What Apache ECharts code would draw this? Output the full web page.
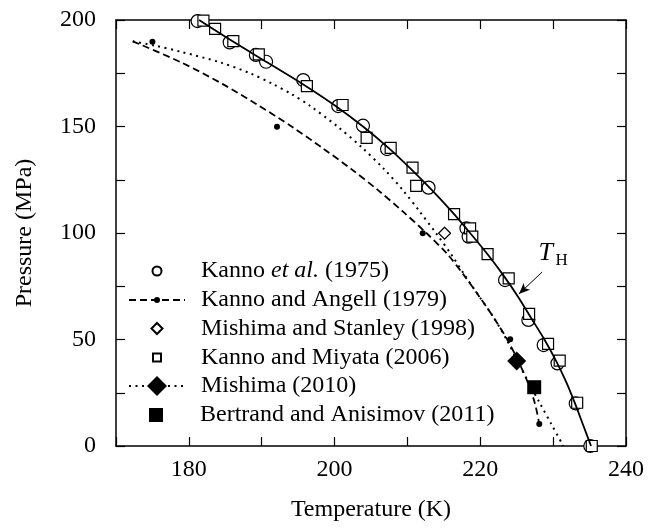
<!DOCTYPE html>
<html><head><meta charset="utf-8">
<script src="https://cdn.jsdelivr.net/npm/echarts@6/dist/echarts.min.js"></script>
<style>html,body{margin:0;padding:0;background:#fff}#c{width:648px;height:529px}</style>
</head><body><div id="c"></div><script>
const FONT = "'Liberation Serif','Times New Roman',serif";

// Axis ranges [min, max, tick interval]
const xTicks = [170, 240, 10];
const yTicks = [0, 200, 25];

// Kanno et al. (1975) — open circles
const kanno1975_T = [181.2,185.6,189.2,190.6,195.7,200.5,203.9,207.2,212.9,218.1,218.4,223.4,226.6,228.7,230.6,233.1,235.1];
const kanno1975_P = [199.5,189.5,183.6,180.4,171.8,159.6,150.4,139.4,121.3,102.2,98.3,77.9,59.2,47.4,38.8,20.0,0];

// Kanno and Miyata (2006) — open squares
const kannoMiyata_T = [182.0,183.6,186.1,189.6,196.2,201.1,204.4,207.7,210.7,211.2,216.4,218.6,218.9,221.0,223.9,226.7,229.3,230.9,233.3,235.3];
const kannoMiyata_P = [199.7,195.8,190.1,183.9,169.0,160.1,144.7,140.0,130.7,122.1,108.9,102.2,98.3,90.1,78.7,62.0,47.9,40.1,20.3,0];

// Kanno and Angell (1979) — dots and dashed curve
const kannoAngellPts_T = [175.0,192.1,212.1,224.1,228.1];
const kannoAngellPts_P = [189.8,149.9,99.9,50.1,10.3];
const kannoAngellCurve_T = [172.3,179.0,184.6,189.5,194.1,198.3,202.3,206.0,209.4,212.6,215.5,217.8,219.9,221.9,223.7,225.2,226.5,227.5,228.1];
const kannoAngellCurve_P = [190,180,170,160,150,140,130,120,110,100,90,80,70,60,50,40,30,20,10.3];

// Mishima (2010) — dotted curve and filled diamond
const mishimaCurve_T = [172.3,175.3,179.0,184.4,188.4,191.5,194.2,196.5,200.4,203.8,206.8,209.4,211.7,213.9,216.0,217.9,219.9,221.9,223.6,225.1,226.6,228.2,229.8,231.4];
const mishimaCurve_P = [190,188,185,180,175,170,165,160,150,140,130,120,110,100,90,80,70,60,50,40,30,20,10,0];
const mishima2010_T = [225.0];
const mishima2010_P = [39.9];

// Mishima and Stanley (1998) — open diamond
const mishimaStanley_T = [215.1];
const mishimaStanley_P = [99.9];

// Bertrand and Anisimov (2011) — filled square
const bertrand_T = [227.4];
const bertrand_P = [27.6];

// T_H line
const tH_T = [181.4,186.0,190.8,195.6,200.0,203.9,207.4,210.5,213.4,216.1,218.6,221.0,223.2,225.2,227.0,228.8,230.4,231.8,233.0,234.1,235.2];
const tH_P = [200,190,180,170,160,150,140,130,120,110,100,90,80,70,60,50,40,30,20,10,0];

const zip = (a, b) => a.map((v, i) => [v, b[i]]);

const NAMES = {
  k75: 'Kanno et al. (1975)',
  ka: 'Kanno and Angell (1979)',
  ms: 'Mishima and Stanley (1998)',
  km: 'Kanno and Miyata (2006)',
  m10: 'Mishima (2010)',
  ba: 'Bertrand and Anisimov (2011)'
};

// legend rows: name, row centre y, icon width, icon height
const ICON_CX = 156, TEXT_X = 200;
const legendRows = [
  [NAMES.k75, 271, 9, 9],
  [NAMES.ka, 300, 56, 7.5],
  [NAMES.ms, 328.5, 11, 11],
  [NAMES.km, 357.5, 8, 8],
  [NAMES.m10, 386, 56, 25],
  [NAMES.ba, 415, 14, 14]
];
const legends = legendRows.map(([name, cy, w, h]) => {
  const left = ICON_CX - w / 2;
  const pad = TEXT_X - (left + w + 5);
  const isRich = name === NAMES.k75;
  return {
    data: [name],
    orient: 'vertical',
    left: left,
    top: cy - 12,
    padding: 0,
    itemWidth: w,
    itemHeight: h,
    selectedMode: false,
    formatter: n => isRich ? '{s|}Kanno {i|et al.} (1975)' : n,
    textStyle: Object.assign({
      fontFamily: FONT, fontSize: 24, color: '#000',
      rich: {
        s: { width: pad, fontSize: 24, fontFamily: FONT },
        i: { fontFamily: FONT, fontSize: 24, fontStyle: 'italic', color: '#000' }
      }
    }, isRich ? {} : { padding: [0, 0, 0, pad] })
  };
});

const axisCommon = {
  type: 'value',
  axisLine: { onZero: false, lineStyle: { color: '#000', width: 1.5 } },
  axisTick: { inside: true, length: 9, lineStyle: { color: '#000', width: 1.2 } },
  splitLine: { show: false }
};

const openStyle = { color: '#fff', borderColor: '#000', borderWidth: 1.2, opacity: 1 };
const solidStyle = { color: '#000', opacity: 1 };

const chart = echarts.init(document.getElementById('c'), null, { renderer: 'canvas' });
chart.setOption({
  animation: false,
  backgroundColor: '#fff',
  grid: { left: 116, right: 22, top: 20, bottom: 83 },
  legend: legends,
  xAxis: [
    Object.assign({}, axisCommon, {
      position: 'bottom', min: xTicks[0], max: xTicks[1], interval: xTicks[2],
      axisLabel: { formatter: v => (v % 20 === 0 ? String(v) : ''), color: '#000', fontSize: 24, fontFamily: FONT, margin: 12, showMinLabel: true, showMaxLabel: true },
      name: 'Temperature (K)', nameLocation: 'middle', nameGap: 52,
      nameTextStyle: { color: '#000', fontSize: 24, fontFamily: FONT }
    }),
    Object.assign({}, axisCommon, {
      position: 'top', min: xTicks[0], max: xTicks[1], interval: xTicks[2],
      axisLabel: { show: false }
    })
  ],
  yAxis: [
    Object.assign({}, axisCommon, {
      position: 'left', min: yTicks[0], max: yTicks[1], interval: yTicks[2],
      axisLabel: { formatter: v => (v % 50 === 0 ? String(v) : ''), color: '#000', fontSize: 24, fontFamily: FONT, margin: 20, showMinLabel: true, showMaxLabel: true },
      name: 'Pressure (MPa)', nameLocation: 'middle', nameGap: 79,
      nameTextStyle: { color: '#000', fontSize: 24, fontFamily: FONT }
    }),
    Object.assign({}, axisCommon, {
      position: 'right', min: yTicks[0], max: yTicks[1], interval: yTicks[2],
      axisLabel: { show: false }
    })
  ],
  series: [
    {
      name: 'T_H', type: 'line', data: zip(tH_T, tH_P), smooth: 0.3,
      symbol: 'none', lineStyle: { color: '#000', width: 1.8 }, itemStyle: { color: '#000' },
      markLine: {
        silent: true, symbol: ['none', 'arrow'], symbolSize: [7, 11],
        label: { show: false }, lineStyle: { color: '#000', width: 1, type: 'solid' },
        data: [[{ coord: [228.5, 81.7] }, { coord: [225.3, 71.4] }]]
      }
    },
    {
      name: NAMES.ka, type: 'line', data: zip(kannoAngellCurve_T, kannoAngellCurve_P), smooth: 0.3,
      symbol: 'circle', showSymbol: false, lineStyle: { color: '#000', width: 1.8, type: [7, 4] }, itemStyle: solidStyle
    },
    {
      name: NAMES.m10, type: 'line', data: zip(mishimaCurve_T, mishimaCurve_P), smooth: 0.3,
      symbol: 'diamond', showSymbol: false, lineStyle: { color: '#000', width: 2, type: [2, 4.5] }, itemStyle: solidStyle
    },
    {
      name: NAMES.k75, type: 'scatter', data: zip(kanno1975_T, kanno1975_P), symbol: 'circle', symbolSize: 13,
      itemStyle: openStyle, clip: false
    },
    {
      name: NAMES.ka, type: 'scatter', data: zip(kannoAngellPts_T, kannoAngellPts_P), symbol: 'circle', symbolSize: 6,
      itemStyle: solidStyle, clip: false
    },
    {
      name: NAMES.ms, type: 'scatter', data: zip(mishimaStanley_T, mishimaStanley_P), symbol: 'diamond', symbolSize: [12, 12],
      itemStyle: openStyle, clip: false
    },
    {
      name: NAMES.km, type: 'scatter', data: zip(kannoMiyata_T, kannoMiyata_P), symbol: 'rect', symbolSize: 11,
      itemStyle: openStyle, clip: false
    },
    {
      name: NAMES.m10, type: 'scatter', data: zip(mishima2010_T, mishima2010_P), symbol: 'diamond', symbolSize: [19, 19],
      itemStyle: solidStyle, clip: false
    },
    {
      name: NAMES.ba, type: 'scatter', data: zip(bertrand_T, bertrand_P), symbol: 'rect', symbolSize: 14,
      itemStyle: solidStyle, clip: false
    }
  ]
});

// T_H label anchored in data space
const pT = chart.convertToPixel({ gridIndex: 0 }, [228.0, 84.5]);
chart.setOption({
  graphic: [
    { type: 'text', x: pT[0], y: pT[1], style: { text: 'T', font: 'italic 26px ' + FONT, fill: '#000', verticalAlign: 'bottom', align: 'left' } },
    { type: 'text', x: pT[0] + 17, y: pT[1] + 3, style: { text: 'H', font: '17px ' + FONT, fill: '#000', verticalAlign: 'bottom', align: 'left' } }
  ]
});
</script></body></html>
